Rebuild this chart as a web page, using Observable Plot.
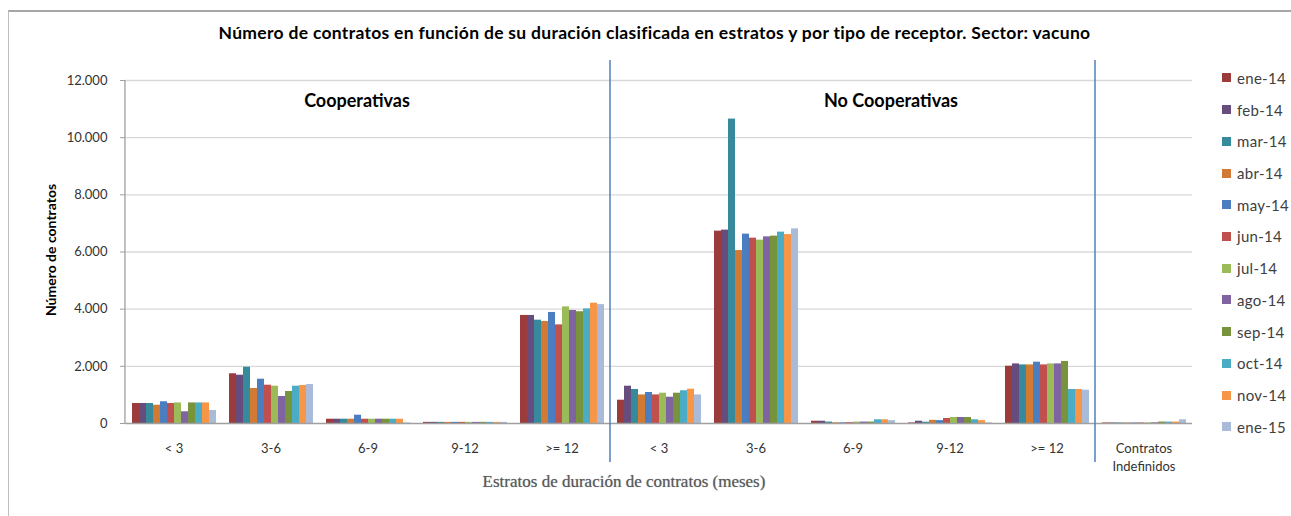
<!DOCTYPE html>
<html><head><meta charset="utf-8">
<script src="https://cdn.jsdelivr.net/npm/d3@7"></script>
<script src="https://cdn.jsdelivr.net/npm/@observablehq/plot@0.6"></script>
<style>
body{margin:0;background:#fff;font-family:Lato,"Open Sans",sans-serif;}
#wrap{position:relative;width:1291px;height:516px;overflow:hidden;background:#fff;}
#border{position:absolute;left:8px;top:10px;width:1300px;height:520px;border-top:2px solid #a6a6a6;border-left:1px solid #bfbfbf;}
#title{position:absolute;top:22px;left:9px;width:1291px;text-align:center;font-weight:bold;font-size:17.5px;letter-spacing:0.3px;color:#000;white-space:nowrap;}
#legend{position:absolute;left:1222px;top:62px;}
.item{height:31.73px;display:flex;align-items:center;font-size:15px;letter-spacing:0.3px;color:#404040;white-space:nowrap;}
.sw{width:9px;height:9px;margin-right:6px;flex:none;}
#chart{position:absolute;left:0;top:0;}
#ylabel{position:absolute;left:50px;top:250px;transform:translate(-50%,-50%) rotate(-90deg);font-weight:bold;font-size:14px;color:#000;white-space:nowrap;}
#xlabel{position:absolute;left:624px;top:482px;transform:translate(-50%,-50%);font-family:"Liberation Serif",serif;font-size:17px;color:#5a5a5a;white-space:nowrap;text-shadow:0 0 1px #999;}
</style></head>
<body>
<div id="wrap">
  <div id="border"></div>
  <div id="chart"></div>
  <div id="title">Número de contratos en función de su duración clasificada en estratos y por tipo de receptor. Sector: vacuno</div>
  <div id="ylabel">Número de contratos</div>
  <div id="xlabel">Estratos de duración de contratos (meses)</div>
  <div id="legend"></div>
</div>
<script>
// ---- data ----
const months = ["ene-14","feb-14","mar-14","abr-14","may-14","jun-14","jul-14","ago-14","sep-14","oct-14","nov-14","ene-15"];
const monthColors = ["#9C3B3B","#674D7E","#378A9C","#D07A34","#4A7EC0","#C0504D","#9BBB59","#8064A2","#77933C","#4BACC6","#F79646","#A9BBD9"];
const categoryKeys = ["C<3","C3-6","C6-9","C9-12","C>=12","N<3","N3-6","N6-9","N9-12","N>=12","IND"];
const categoryLabels = ["< 3","3-6","6-9","9-12",">= 12","< 3","3-6","6-9","9-12",">= 12","Contratos\nIndefinidos"];
const coopLt3   = [700,700,700,640,760,700,720,410,720,720,720,455];
const coop3_6   = [1740,1690,1970,1225,1550,1340,1305,945,1120,1305,1330,1365];
const coop6_9   = [150,150,150,150,290,150,150,150,150,150,150,20];
const coop9_12  = [40,40,40,40,40,40,40,40,40,40,40,40];
const coopGe12  = [3780,3780,3615,3570,3885,3450,4080,3955,3910,4010,4210,4160];
const noCoopLt3  = [815,1305,1190,1000,1085,1000,1060,920,1060,1145,1200,1000];
const noCoop3_6  = [6730,6765,10650,6050,6625,6485,6415,6530,6555,6695,6610,6810];
const noCoop6_9  = [80,80,50,25,25,30,50,50,50,130,130,100];
const noCoop9_12 = [20,80,45,110,100,175,210,210,210,130,100,20];
const noCoopGe12 = [2005,2085,2050,2050,2145,2050,2085,2085,2170,1190,1190,1165];
const indefinidos = [20,20,20,20,20,20,20,25,50,50,50,130];
const seriesByCategory = [coopLt3,coop3_6,coop6_9,coop9_12,coopGe12,noCoopLt3,noCoop3_6,noCoop6_9,noCoop9_12,noCoopGe12,indefinidos];
const yTicks = [0,2000,4000,6000,8000,10000,12000];
const groupTitles = [{key:"C6-9", label:"Cooperativas"},{key:"N6-9", label:"No Cooperativas"}];
const dividerBefore = ["N<3","IND"];

// ---- build table ----
const data = [];
categoryKeys.forEach((k,i)=>months.forEach((m,j)=>data.push({cat:k, month:m, value:seriesByCategory[i][j]})));
const labelOf = new Map(categoryKeys.map((k,i)=>[k,categoryLabels[i]]));
const fmt = d3.formatLocale({decimal:",",thousands:".",grouping:[3],currency:["","€"]}).format(",d");

const W=1291,H=516,ML=125,MR=99,MT=80,MB=93;
const pIn=0.1,pOut=0.05;
const step=(W-ML-MR)/(categoryKeys.length - pIn + 2*pOut);
const gapHalf=step*pIn/2+0.2;

const chart = Plot.plot({
  width:W,height:H,marginLeft:ML,marginRight:MR,marginTop:MT,marginBottom:MB,
  style:{fontFamily:"Lato, 'Open Sans', sans-serif",color:"#333",background:"transparent"},
  fx:{domain:categoryKeys,paddingInner:pIn,paddingOuter:pOut,label:null},
  x:{domain:months,padding:0,axis:null},
  y:{domain:[0,12000],axis:null},
  color:{domain:months,range:monthColors},
  marks:[
    Plot.ruleY(yTicks.slice(1),{stroke:"#d9d9d9",strokeWidth:1.3,insetLeft:-gapHalf,insetRight:-gapHalf}),
    Plot.barY(data,{fx:"cat",x:"month",y:"value",fill:"month"}),
    Plot.ruleY([0],{stroke:"#a0a0a0",strokeWidth:1.3,insetLeft:-gapHalf,insetRight:-gapHalf}),
    Plot.axisY({ticks:yTicks,tickFormat:fmt,tickSize:5,tickPadding:13,dx:-gapHalf,label:null,fontSize:13,stroke:"#a0a0a0",fill:"#333"}),
    Plot.axisFx({anchor:"bottom",tickSize:0,tickPadding:17,label:null,fontSize:13,lineHeight:1.35,fill:"#333",tickFormat:k=>labelOf.get(k)}),
    Plot.text(groupTitles.slice(0,1),{fx:"key",text:"label",frameAnchor:"top",dy:14,dx:-11,fontWeight:"bold",fontSize:18,fill:"#000"}),
    Plot.text(groupTitles.slice(1),{fx:"key",text:"label",frameAnchor:"top",dy:14,dx:38,fontWeight:"bold",fontSize:18,fill:"#000"})
  ]
});
document.getElementById("chart").appendChild(chart);

// y axis line and group dividers positioned with the plot's own scales
const fx = chart.scale("fx"), ys = chart.scale("y");
const svg = d3.select(chart);
const x0 = fx.apply(categoryKeys[0]) - gapHalf;
svg.append("line").attr("x1",x0).attr("x2",x0).attr("y1",ys.apply(12000)).attr("y2",ys.apply(0))
  .attr("stroke","#a0a0a0").attr("stroke-width",1.3);
dividerBefore.forEach(k=>{
  const i = categoryKeys.indexOf(k);
  const xb = (fx.apply(categoryKeys[i-1]) + fx.bandwidth + fx.apply(k))/2;
  svg.append("line").attr("x1",xb).attr("x2",xb).attr("y1",60).attr("y2",462)
    .attr("stroke","#4F81BD").attr("stroke-width",1.5);
});

// legend
const lg = document.getElementById("legend");
months.forEach((m,i)=>{
  const d=document.createElement("div");d.className="item";
  d.innerHTML=`<span class="sw" style="background:${monthColors[i]}"></span>${m}`;
  lg.appendChild(d);
});
</script>
</body></html>
